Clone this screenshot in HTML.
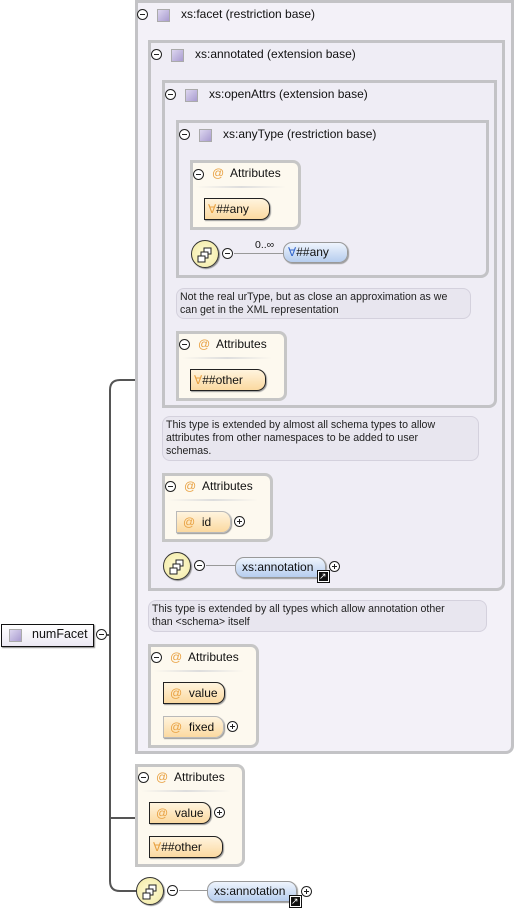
<!DOCTYPE html>
<html><head><meta charset="utf-8"><style>
*{box-sizing:border-box;margin:0;padding:0}
body{width:514px;height:911px;background:#fff;position:relative;overflow:hidden;font-family:"Liberation Sans","DejaVu Sans",sans-serif;font-size:12px;color:#111}
.a{position:absolute}
.box{position:absolute;border:3px solid #c3c3c6;background:#efedf5;border-radius:0 0 8px 0}
.hdr{position:absolute;font-size:12px;white-space:nowrap}
.sq{display:inline-block;width:13px;height:13px;border:1px solid #aaa;background:linear-gradient(135deg,#ddd6ef,#a99cd0);vertical-align:middle}
.mn,.pl{position:absolute;width:11px;height:11px;border:1px solid #222;border-radius:50%;background:#fff}
.mn::after,.pl::after{content:"";position:absolute;left:2px;top:4px;width:5px;height:1px;background:#222}
.pl::before{content:"";position:absolute;left:4px;top:2px;width:1px;height:5px;background:#222}
.att{position:absolute;border:3px solid #c6c6c6;background:#fdf9ef;border-radius:0 8px 8px 0}
.sep{position:absolute;height:2px;background:linear-gradient(90deg,#fdf9ef,#ddd,#fdf9ef)}
.pill{position:absolute;height:22px;border:1px solid #b9b9b9;border-radius:0 9px 9px 0;background:linear-gradient(#fff4de,#fbd9a0);font-size:12px;line-height:20px;padding-left:6px;white-space:nowrap;box-shadow:1px 1px 1px #999}
.req{border:1px solid #222}
.blue{background:linear-gradient(#eef4fd,#b6cdee);border:1px solid #999;border-radius:9px}
.o{color:#e8a040}
.note{position:absolute;border:1px solid #d4d1dd;background:#e8e6ef;border-radius:8px;font-size:10.6px;line-height:13px;padding:2px 3px;color:#222}
.seq{position:absolute;width:28px;height:28px;border:1px solid #333;border-radius:50%;background:radial-gradient(#fffbd6,#f1e9a3);box-shadow:1px 1px 1px #888}
.seq svg{position:absolute;left:5px;top:6px}
.line{position:absolute;background:#999;height:1px}
.lnk{position:absolute;width:11px;height:11px;background:#111;border:1px solid #fff;outline:1px solid #111}
.lnk::after{content:"↗";position:absolute;color:#fff;font-size:9px;line-height:9px;left:0;top:0}
</style></head><body>

<svg class="a" style="left:0;top:0" width="514" height="911">
<path d="M135 380 H120 Q110 380 110 390 V881 Q110 891 120 891 H140" fill="none" stroke="#555" stroke-width="2"/>
<path d="M110 818 H135" stroke="#555" stroke-width="2"/>
<path d="M107 635 H111" stroke="#555" stroke-width="2"/>
</svg>

<div class="a" style="left:1px;top:624px;width:93px;height:23px;border:1px solid #111;background:linear-gradient(#fff,#ece9f4);box-shadow:1px 1px 1px #888"></div>
<div class="hdr" style="left:9px;top:628px"><span class="sq"></span></div>
<div class="hdr" style="left:32px;top:627px;font-size:12.5px">numFacet</div>
<div class="mn" style="left:96px;top:629px"></div>

<div class="box" style="left:135px;top:0;width:379px;height:754px;background:#f3f1f8"></div>
<div class="mn" style="left:137px;top:9px"></div>
<div class="hdr" style="left:157px;top:8px"><span class="sq"></span></div>
<div class="hdr" style="left:181px;top:7px">xs:facet (restriction base)</div>

<div class="box" style="left:148px;top:40px;width:357px;height:551px"></div>
<div class="mn" style="left:151px;top:49px"></div>
<div class="hdr" style="left:171px;top:48px"><span class="sq"></span></div>
<div class="hdr" style="left:195px;top:47px">xs:annotated (extension base)</div>

<div class="box" style="left:162px;top:80px;width:335px;height:328px"></div>
<div class="mn" style="left:165px;top:89px"></div>
<div class="hdr" style="left:185px;top:88px"><span class="sq"></span></div>
<div class="hdr" style="left:209px;top:87px">xs:openAttrs (extension base)</div>

<div class="box" style="left:176px;top:120px;width:313px;height:158px"></div>
<div class="mn" style="left:179px;top:129px"></div>
<div class="hdr" style="left:199px;top:128px"><span class="sq"></span></div>
<div class="hdr" style="left:223px;top:127px">xs:anyType (restriction base)</div>

<div class="att" style="left:190px;top:160px;width:111px;height:70px"></div>
<div class="mn" style="left:193px;top:169px"></div>
<div class="hdr o" style="left:212px;top:166px">@</div>
<div class="hdr" style="left:230px;top:166px">Attributes</div>
<div class="sep" style="left:196px;top:186px;width:90px"></div>
<div class="pill req" style="left:204px;top:198px;width:66px;padding-left:3px"><span class="o">∀</span>##any</div>

<div class="seq" style="left:191px;top:240px"><svg width="18" height="16"><rect x="7" y="1" width="7" height="6" fill="#fff" stroke="#222"/><rect x="4" y="5" width="7" height="6" fill="#fff" stroke="#222"/><rect x="1" y="9" width="7" height="6" fill="#fff" stroke="#222"/></svg></div>
<div class="mn" style="left:222px;top:248px"></div>
<div class="line" style="left:234px;top:253px;width:50px"></div>
<div class="hdr" style="left:255px;top:239px;font-size:10.5px">0..∞</div>
<div class="pill blue" style="left:283px;top:242px;width:65px;height:21px;line-height:19px;padding-left:4px"><span style="color:#3366cc">∀</span>##any</div>

<div class="note" style="left:176px;top:288px;width:295px;height:31px">Not the real urType, but as close an approximation as we can get in the XML representation</div>

<div class="att" style="left:176px;top:331px;width:111px;height:70px"></div>
<div class="mn" style="left:179px;top:339px"></div>
<div class="hdr o" style="left:198px;top:337px">@</div>
<div class="hdr" style="left:216px;top:337px">Attributes</div>
<div class="sep" style="left:182px;top:357px;width:90px"></div>
<div class="pill req" style="left:190px;top:369px;width:76px;padding-left:3px"><span class="o">∀</span>##other</div>

<div class="note" style="left:162px;top:416px;width:317px;height:45px;padding-right:20px">This type is extended by almost all schema types to allow attributes from other namespaces to be added to user schemas.</div>

<div class="att" style="left:162px;top:473px;width:111px;height:69px"></div>
<div class="mn" style="left:165px;top:481px"></div>
<div class="hdr o" style="left:184px;top:479px">@</div>
<div class="hdr" style="left:202px;top:479px">Attributes</div>
<div class="sep" style="left:168px;top:499px;width:90px"></div>
<div class="pill" style="left:176px;top:511px;width:55px"><span class="o">@</span>&nbsp; id</div>
<div class="pl" style="left:234px;top:516px"></div>

<div class="seq" style="left:163px;top:552px"><svg width="18" height="16"><rect x="7" y="1" width="7" height="6" fill="#fff" stroke="#222"/><rect x="4" y="5" width="7" height="6" fill="#fff" stroke="#222"/><rect x="1" y="9" width="7" height="6" fill="#fff" stroke="#222"/></svg></div>
<div class="mn" style="left:194px;top:560px"></div>
<div class="line" style="left:206px;top:565px;width:30px"></div>
<div class="pill blue" style="left:235px;top:557px;width:91px;height:21px;line-height:19px;padding-left:6px">xs:annotation</div>
<div class="lnk" style="left:318px;top:571px"></div>
<div class="pl" style="left:329px;top:561px"></div>

<div class="note" style="left:148px;top:600px;width:339px;height:32px;padding-right:40px">This type is extended by all types which allow annotation other than &lt;schema&gt; itself</div>

<div class="att" style="left:148px;top:644px;width:111px;height:104px"></div>
<div class="mn" style="left:151px;top:652px"></div>
<div class="hdr o" style="left:170px;top:650px">@</div>
<div class="hdr" style="left:188px;top:650px">Attributes</div>
<div class="sep" style="left:154px;top:670px;width:90px"></div>
<div class="pill req" style="left:163px;top:682px;width:62px"><span class="o">@</span>&nbsp; value</div>
<div class="pill" style="left:163px;top:716px;width:61px"><span class="o">@</span>&nbsp; fixed</div>
<div class="pl" style="left:227px;top:721px"></div>

<div class="att" style="left:135px;top:764px;width:110px;height:103px"></div>
<div class="mn" style="left:138px;top:772px"></div>
<div class="hdr o" style="left:156px;top:770px">@</div>
<div class="hdr" style="left:174px;top:770px">Attributes</div>
<div class="sep" style="left:141px;top:790px;width:90px"></div>
<div class="pill req" style="left:149px;top:802px;width:62px"><span class="o">@</span>&nbsp; value</div>
<div class="pl" style="left:214px;top:807px"></div>
<div class="pill req" style="left:149px;top:836px;width:74px;padding-left:3px"><span class="o">∀</span>##other</div>

<div class="seq" style="left:136px;top:877px"><svg width="18" height="16"><rect x="7" y="1" width="7" height="6" fill="#fff" stroke="#222"/><rect x="4" y="5" width="7" height="6" fill="#fff" stroke="#222"/><rect x="1" y="9" width="7" height="6" fill="#fff" stroke="#222"/></svg></div>
<div class="mn" style="left:167px;top:885px"></div>
<div class="line" style="left:179px;top:890px;width:29px"></div>
<div class="pill blue" style="left:207px;top:881px;width:90px;height:21px;line-height:19px;padding-left:6px">xs:annotation</div>
<div class="lnk" style="left:290px;top:896px"></div>
<div class="pl" style="left:301px;top:886px"></div>

</body></html>
